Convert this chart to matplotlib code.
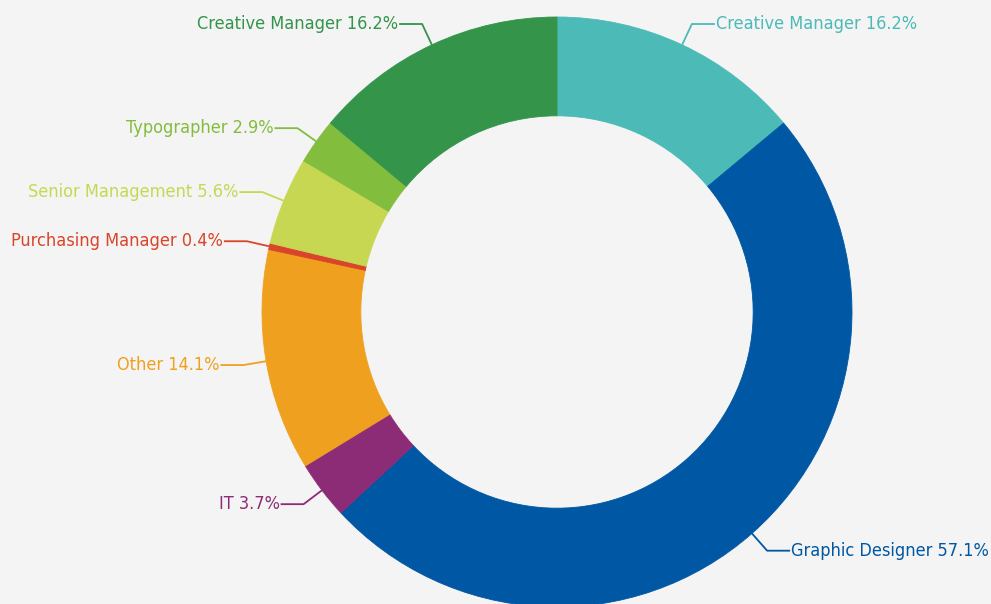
import matplotlib.pyplot as plt
import numpy as np

roles = ['Creative Manager', 'Graphic Designer', 'IT', 'Other',
         'Purchasing Manager', 'Senior Management', 'Typographer', 'Creative Manager']
shares = [16.2, 57.1, 3.7, 14.1, 0.4, 5.6, 2.9, 16.2]
colors = ['#4cbab7', '#0057a3', '#8d2c76', '#f0a01f',
          '#d9442a', '#c7d752', '#83bd3e', '#33944a']

bg = '#f3f4f3'
plt.rcParams['font.family'] = ['DejaVu Sans']
plt.rcParams['font.stretch'] = 'condensed'

fig = plt.figure(figsize=(9.91, 6.04), dpi=100, facecolor=bg)
ax = fig.add_axes([0, 0, 1, 1])
ax.set_facecolor(bg)

cx, cy, R = 557, 292, 295
wedges, _ = ax.pie(shares, colors=colors, startangle=90, counterclock=False,
                   radius=R, center=(cx, cy), frame=True,
                   wedgeprops=dict(width=R * 0.335, linewidth=0.6))
for w, c in zip(wedges, colors):
    w.set_edgecolor(c)
ax.set_xlim(0, 991)
ax.set_ylim(0, 604)
ax.set_aspect('equal')
ax.axis('off')

# leader lines: radial segment out to an elbow, then a short horizontal run
for w, name, val, c in zip(wedges, roles, shares, colors):
    mid = np.deg2rad((w.theta1 + w.theta2) / 2)
    x0, y0 = cx + R * np.cos(mid), cy + R * np.sin(mid)
    x1, y1 = cx + 1.078 * R * np.cos(mid), cy + 1.078 * R * np.sin(mid)
    side = 1 if np.cos(mid) >= 0 else -1
    x2 = x1 + side * 23
    ax.plot([x0, x1, x2], [y0, y1, y1], color=c, lw=1.3, solid_capstyle='butt')
    ax.text(x2 + side * 1, y1, f'{name} {val}%', color=c, fontsize=13,
            fontstretch='condensed',
            ha='left' if side > 0 else 'right', va='center')

fig.savefig('out.png', dpi=100, facecolor=bg)
